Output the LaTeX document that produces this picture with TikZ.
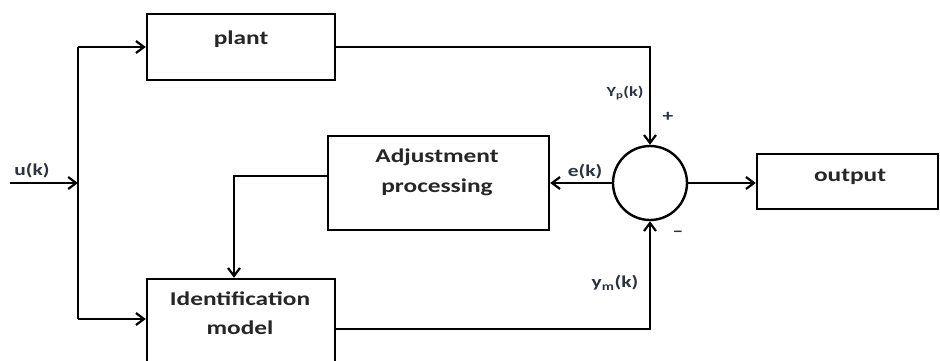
\documentclass[tikz,border=0pt]{standalone}
\usepackage{fontspec}
\setmainfont{Carlito}[FakeStretch=1.3]
\usetikzlibrary{arrows.meta}
\definecolor{boxtext}{HTML}{262626}
\definecolor{lbltext}{HTML}{2B3240}
\begin{document}
\begin{tikzpicture}[x=1pt,y=-1pt,line width=2.4pt,
  every node/.style={font=\bfseries},
  blk/.style={draw, line width=2.4pt, inner sep=0pt},
  bt/.style={text=boxtext, font=\bfseries\fontsize{19.5}{22}\selectfont, inner sep=0pt},
  lb/.style={text=lbltext, font=\bfseries\fontsize{16.5}{18}\selectfont, inner sep=0pt},
  arr/.style={-{Straight Barb[length=8pt,width=12pt,line width=2.2pt]}}]
\useasboundingbox (0,0) rectangle (940,360);
\clip (0,0) rectangle (940,360);
% blocks
\node[blk, minimum width=188pt, minimum height=66pt] (plant) at (241,47) {};
\node[blk, minimum width=188pt, minimum height=100pt] (id) at (241,329) {};
\node[blk, minimum width=221pt, minimum height=94pt] (adj) at (438.5,183) {};
\node[blk, minimum width=181pt, minimum height=55pt] (out) at (847.5,181.5) {};
\node[draw, circle, line width=2.4pt, minimum size=74pt, inner sep=0pt] (sum) at (650,183) {};
% block texts
\node[bt] (tplant) at (241,39) {plant};
\node[bt] (tid1) at (240,299) {Identification};
\node[bt] (tid2) at (240,328) {model};
\node[bt] (tadj1) at (437,157) {Adjustment};
\node[bt] (tadj2) at (437,187) {processing};
\node[bt] (tout) at (850,177) {output};
% connectors
\coordinate (uin) at (10,183);
\coordinate (split) at (78,183);
\coordinate (ftop) at (78,47);
\coordinate (fbot) at (78,319);
\draw[arr] (uin) -- (split);
\draw (ftop) -- (fbot);
\draw[arr] (ftop) -- (ftop -| plant.west);
\draw[arr] (fbot) -- (fbot -| id.west);
\draw[arr] (plant.east) -| (sum.north);
\draw[arr] (sum.west) -- (adj.east);
\draw[arr] ([yshift=7pt]adj.west) -| ([xshift=-7pt]id.north);
\draw[arr] (id.east) -| (sum.south);
\draw[arr] (sum.east) -- (sum.east -| out.west);
% labels
\node[lb] (lu) at (32,171) {u(k)};
\node[lb, font=\bfseries\fontsize{14}{16}\selectfont] (lyp) at (625,93) {Y\textsubscript{p}(k)};
\node[lb] (le) at (585,172) {e(k)};
\node[lb] (lym) at (615,283) {y\textsubscript{m}(k)};
\node[lb] (lplus) at (668,117) {+};
\node[lb] (lminus) at (678,234) {\textendash};
\end{tikzpicture}
\end{document}
